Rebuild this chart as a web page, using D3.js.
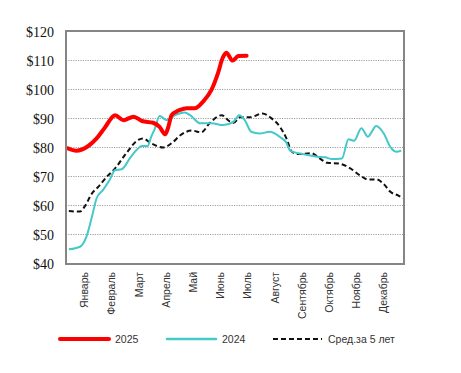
<!DOCTYPE html>
<head>
   <meta charset="utf-8">
   <script src="https://d3js.org/d3.v7.min.js"></script>
   <style>
      body { margin: 0; background: #fff; }
      text.month { font-family: "Liberation Sans", Arial, sans-serif; font-size: 10.5px; fill: #333; }
      text.legend { font-family: "Liberation Sans", Arial, sans-serif; font-size: 10.5px; fill: #333; }
      .grid line { stroke: #a0a0a0; stroke-dasharray: 1.2 1.2; }
      path.domain { display: none; }
   </style>
</head>
<body>
<script>
   // x values are day of year, y values are $ per barrel
   const months = ['Январь', 'Февраль', 'Март', 'Апрель', 'Май', 'Июнь',
      'Июль', 'Август', 'Сентябрь', 'Октябрь', 'Ноябрь', 'Декабрь'];
   const yTicks = [40, 50, 60, 70, 80, 90, 100, 110, 120];

   const series2025 = [
      [2, 79.6], [11, 78.8], [24, 80.4], [33, 83.0], [42, 86.8], [53, 91.0],
      [62, 89.3], [73, 90.5], [82, 89.0], [94, 88.4], [101, 87.0], [107, 84.4],
      [110, 86.5], [114, 91.0], [119, 92.2], [123, 92.8], [130, 93.4], [139, 93.4],
      [148, 95.7], [157, 99.7], [164, 105.4], [169, 110.6], [173, 112.5], [180, 109.8],
      [186, 111.4], [195, 111.5]
   ];

   const series2024 = [
      [3, 44.8], [15, 45.7], [22, 49.2], [28, 56.1], [33, 62.4], [40, 65.3],
      [47, 68.7], [53, 72.1], [60, 72.4], [69, 76.2], [76, 79.0], [82, 80.4],
      [88, 80.4], [92, 83.6], [96, 86.5], [101, 90.7], [109, 89.3], [118, 91.0],
      [128, 91.9], [134, 91.0], [145, 88.2], [157, 88.2], [170, 87.6], [181, 88.8],
      [187, 91.0], [193, 89.3], [200, 85.3], [209, 84.7], [220, 85.3], [231, 83.5],
      [238, 81.5], [242, 78.8], [251, 77.9], [256, 77.6], [271, 76.7], [280, 76.5],
      [287, 75.9], [298, 76.1], [305, 82.7], [311, 82.2], [319, 86.5], [326, 83.6],
      [335, 87.3], [343, 84.8], [350, 80.2], [357, 78.4], [362, 78.8]
   ];

   const seriesAvg5 = [
      [3, 58.0], [15, 57.8], [20, 59.5], [28, 64.1], [35, 66.4], [44, 69.8],
      [53, 72.7], [65, 77.9], [78, 82.5], [83, 83.0], [92, 81.3], [105, 79.9],
      [116, 81.9], [123, 84.0], [136, 85.7], [146, 85.1], [155, 88.2], [168, 91.0],
      [177, 88.8], [181, 88.4], [188, 90.3], [199, 90.3], [212, 91.6], [222, 89.9],
      [231, 87.0], [238, 83.0], [244, 78.4], [251, 77.6], [265, 77.9], [274, 76.1],
      [282, 74.6], [294, 74.4], [307, 72.7], [317, 70.4], [326, 68.9], [335, 68.9],
      [344, 67.0], [350, 64.7], [359, 63.3], [364, 62.4]
   ];

   const width = 461;
   const height = 373;
   const margin = { top: 31, right: 57, bottom: 109, left: 66 };

   const svg = d3.select('body').append('svg')
      .attr('width', width)
      .attr('height', height);

   const x = d3.scaleLinear()
      .domain([1, 365])
      .range([margin.left + 1, width - margin.right]);

   const y = d3.scaleLinear()
      .domain([40, 120])
      .range([height - margin.bottom - 0.7, margin.top]);

   // dotted grid lines
   svg.append('g')
      .attr('class', 'grid')
      .selectAll('line')
      .data(yTicks.filter(d => d > 40 && d < 120))
      .enter()
      .append('line')
      .attr('x1', margin.left)
      .attr('x2', width - margin.right)
      .attr('y1', d => Math.round(y(d)) + 0.5)
      .attr('y2', d => Math.round(y(d)) + 0.5);

   // y axis labels
   const yAxis = d3.axisLeft(y)
      .tickValues(yTicks)
      .tickSize(0)
      .tickPadding(12)
      .tickFormat(d => '$' + d);

   svg.append('g')
      .attr('transform', `translate(${margin.left}, 0)`)
      .call(yAxis)
      .call(g => g.attr('font-family', null).attr('font-size', null))
      .selectAll('text')
      .style('font-family', '"Liberation Serif", "Times New Roman", serif')
      .style('font-size', '14px')
      .style('fill', '#111')
      .attr('dy', '0.36em');

   // month labels
   const mx = d3.scalePoint()
      .domain(months)
      .range([x(20), x(343)]);

   svg.append('g')
      .selectAll('text')
      .data(months)
      .enter()
      .append('text')
      .attr('class', 'month')
      .attr('transform', d => `translate(${mx(d)}, ${height - margin.bottom + 8}) rotate(-90)`)
      .attr('dy', '0.35em')
      .style('text-anchor', 'end')
      .text(d => d);

   const line = d3.line()
      .x(d => x(d[0]))
      .y(d => y(d[1]))
      .curve(d3.curveMonotoneX);

   svg.append('path')
      .datum(seriesAvg5)
      .attr('fill', 'none')
      .attr('stroke', '#111')
      .attr('stroke-width', 2)
      .attr('stroke-dasharray', '5 3')
      .attr('d', line);

   svg.append('path')
      .datum(series2024)
      .attr('fill', 'none')
      .attr('stroke', '#44c8c8')
      .attr('stroke-width', 2)
      .attr('d', line);

   svg.append('path')
      .datum(series2025)
      .attr('fill', 'none')
      .attr('stroke', '#ff0000')
      .attr('stroke-width', 4)
      .attr('stroke-linecap', 'round')
      .attr('d', line);

   // plot frame
   svg.append('rect')
      .attr('x', margin.left)
      .attr('y', margin.top)
      .attr('width', width - margin.left - margin.right)
      .attr('height', height - margin.top - margin.bottom)
      .attr('fill', 'none')
      .attr('stroke', '#858585')
      .attr('stroke-width', 2);

   // legend
   const legendItems = [
      { name: '2025', color: '#ff0000', width: 4, dash: null, x: 60 },
      { name: '2024', color: '#44c8c8', width: 2.5, dash: null, x: 167 },
      { name: 'Сред.за 5 лет', color: '#111', width: 2, dash: '5 3', x: 273 }
   ];

   const legend = svg.append('g')
      .attr('transform', 'translate(0, 339)');

   legendItems.forEach(d => {
      legend.append('line')
         .attr('x1', d.x)
         .attr('x2', d.x + 49)
         .attr('stroke', d.color)
         .attr('stroke-width', d.width)
         .attr('stroke-linecap', d.dash ? 'butt' : 'round')
         .attr('stroke-dasharray', d.dash);
      legend.append('text')
         .attr('class', 'legend')
         .attr('x', d.x + 55)
         .attr('dy', '0.35em')
         .text(d.name);
   });
</script>
</body>
